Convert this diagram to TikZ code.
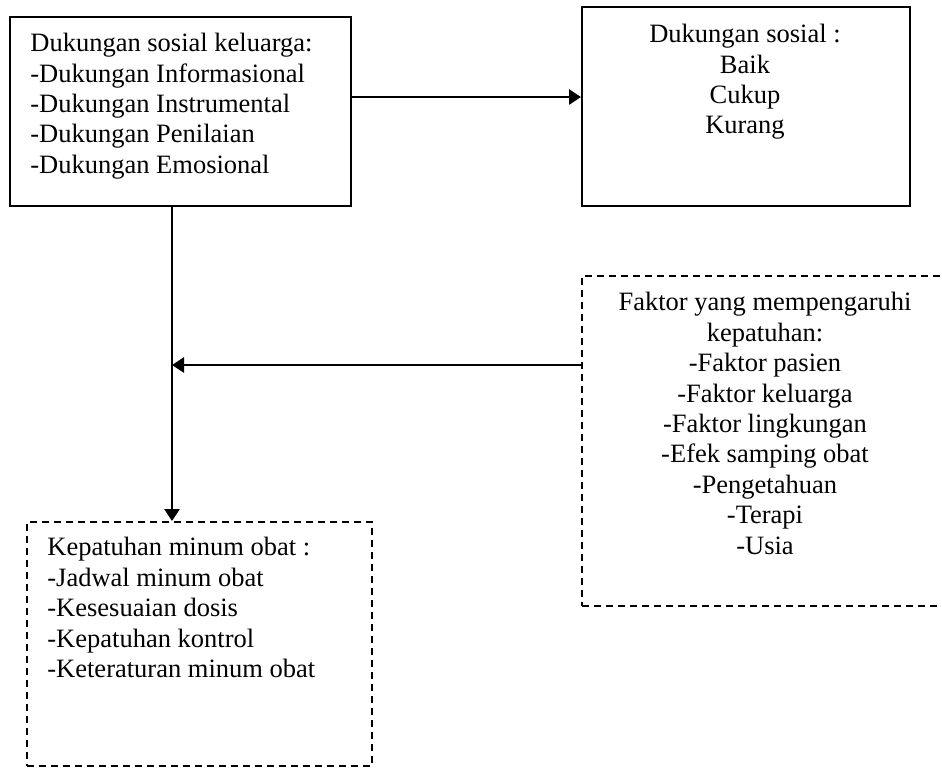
\documentclass[tikz,border=0pt]{standalone}
\usepackage{fontspec}
\setmainfont{Liberation Serif}
\usetikzlibrary{arrows.meta}

\begin{document}
\begin{tikzpicture}[x=0.5pt,y=-0.5pt,
  kotak/.style={draw,line width=1pt,inner sep=0pt,anchor=north west},
  putus/.style={kotak,dash pattern=on 3.5pt off 2.5pt},
  isi/.style={inner sep=0pt,font=\fontsize{13.25}{15.2}\selectfont},
  panah/.style={line width=1.4pt,-{Triangle[length=6pt,width=7.5pt]}}]
\useasboundingbox (0,0) rectangle (942,767);
\clip (0,0) rectangle (942,767);
% kotak
\node[kotak,minimum width=170.5pt,minimum height=94.5pt] (keluarga) at (9,16) {};
\node[kotak,minimum width=164pt,minimum height=99.5pt] (sosial) at (581,6) {};
\node[putus,minimum width=184pt,minimum height=165pt] (faktor) at (581,275) {};
\node[putus,minimum width=172.5pt,minimum height=122pt] (patuh) at (26,521) {};
% isi kotak
\node[isi,anchor=north west,align=left] (isikeluarga) at (30,33)
  {Dukungan sosial keluarga:\\-Dukungan Informasional\\-Dukungan Instrumental\\-Dukungan Penilaian\\-Dukungan Emosional};
\node[isi,anchor=north,align=center] (isisosial) at (745,24)
  {Dukungan sosial :\\Baik\\Cukup\\Kurang};
\node[isi,anchor=north,align=center] (isifaktor) at (765,292)
  {Faktor yang mempengaruhi\\kepatuhan:\\-Faktor pasien\\-Faktor keluarga\\-Faktor lingkungan\\-Efek samping obat\\-Pengetahuan\\-Terapi\\-Usia};
\node[isi,anchor=north west,align=left] (isipatuh) at (47,537)
  {Kepatuhan minum obat :\\-Jadwal minum obat\\-Kesesuaian dosis\\-Kepatuhan kontrol\\-Keteraturan minum obat};
% panah
\coordinate (temu) at (172,365);
\draw[panah] (keluarga.east |- 0,97) -- (sosial.west |- 0,97);
\draw[panah] (keluarga.south -| temu) -- (patuh.north -| temu);
\draw[panah] (faktor.west |- temu) -- (temu);
\end{tikzpicture}
\end{document}
